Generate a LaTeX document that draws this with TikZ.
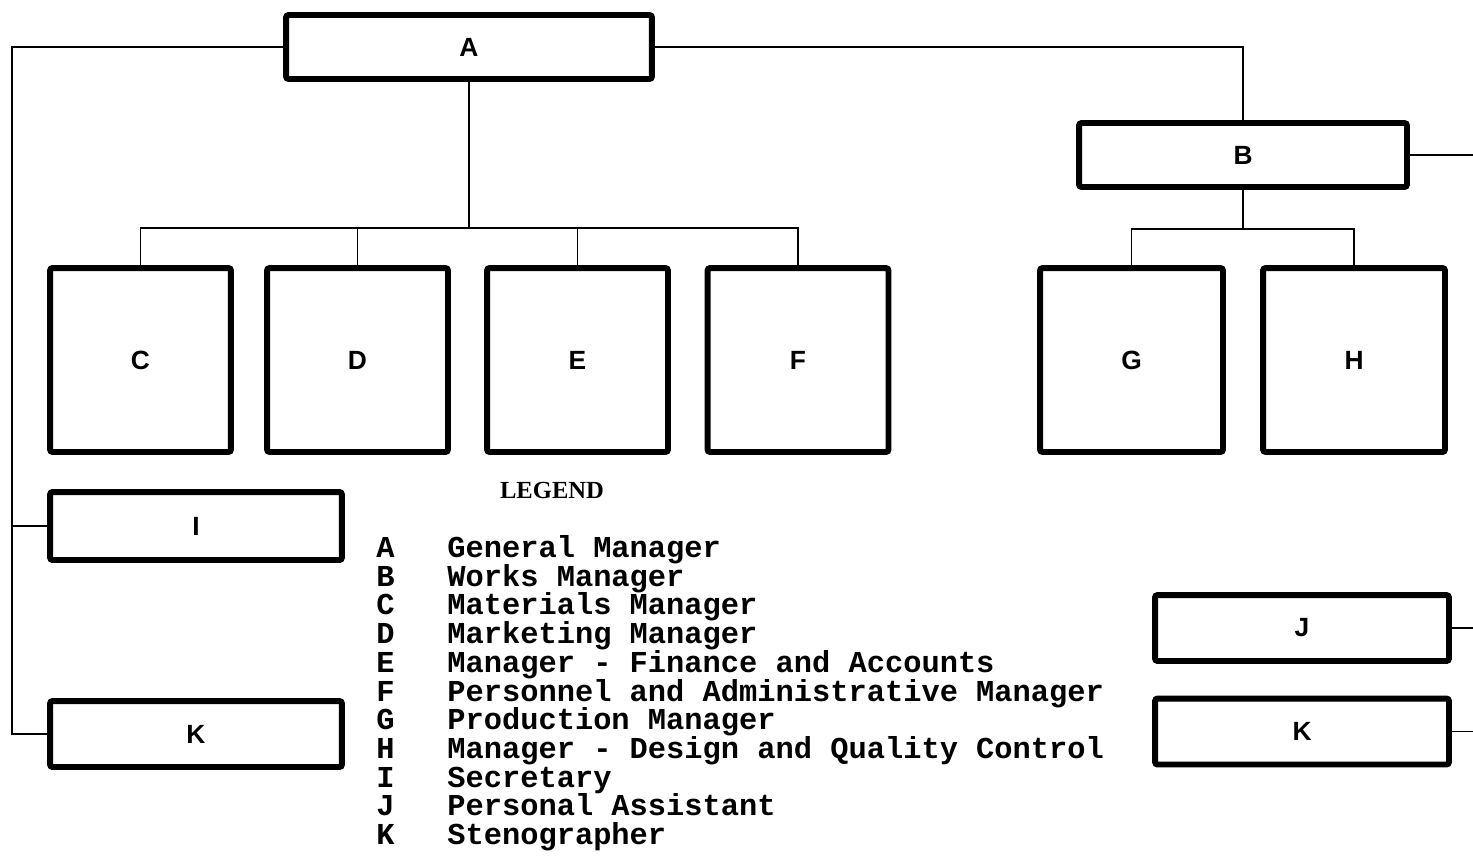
\documentclass[tikz,border=0pt]{standalone}
\usepackage{fontspec}
\setmainfont{Liberation Sans}
\newfontfamily\legfont{Liberation Mono}
\newfontfamily\headfont{Liberation Serif}
\begin{document}
\begin{tikzpicture}[x=0.02cm,y=-0.02cm,
  box/.style={draw, line width=3.4pt, rounded corners=1.5pt, inner sep=0pt,
              font=\bfseries\fontsize{15}{17}\selectfont},
  wire/.style={line width=1.1pt},
  leg/.style={anchor=base west, inner sep=0pt,
              font=\legfont\bfseries\fontsize{17.3}{19}\selectfont}]
\useasboundingbox (0,0) rectangle (1473,856);

% boxes
\node[box, minimum width=7.32cm, minimum height=1.28cm] (A) at (469,47) {A};
\node[box, minimum width=6.56cm, minimum height=1.28cm] (B) at (1243,155) {B};
\node[box, minimum width=3.62cm, minimum height=3.68cm] (C) at (140.5,360) {C};
\node[box, minimum width=3.62cm, minimum height=3.68cm] (D) at (357.5,360) {D};
\node[box, minimum width=3.62cm, minimum height=3.68cm] (E) at (577.5,360) {E};
\node[box, minimum width=3.62cm, minimum height=3.68cm] (F) at (798,360) {F};
\node[box, minimum width=3.66cm, minimum height=3.68cm] (G) at (1131.5,360) {G};
\node[box, minimum width=3.64cm, minimum height=3.68cm] (H) at (1354,360) {H};
\node[box, minimum width=5.84cm, minimum height=1.36cm] (I) at (196,526) {I};
\node[box, minimum width=5.84cm, minimum height=1.32cm] (K1) at (196,734) {K};
\node[box, minimum width=5.88cm, minimum height=1.32cm] (J) at (1302,628) {J};
\node[box, minimum width=5.88cm, minimum height=1.32cm] (K2) at (1302,731.5) {K};

% connectors from A
\coordinate (busA) at (469,228);
\draw[wire] (A.south) -- (busA);
\draw[wire] (C.north) -- (C.north |- busA) -- (F.north |- busA) -- (F.north);
\draw[wire] (D.north) -- (D.north |- busA);
\draw[wire] (E.north) -- (E.north |- busA);
\draw[wire] (A.east) -| (B.north);
\coordinate (lt) at (12,47);
\draw[wire] (A.west) -- (lt) |- (K1.west);
\draw[wire] (lt |- I.west) -- (I.west);

% connectors from B
\coordinate (busB) at (1243,229);
\draw[wire] (B.south) -- (busB);
\draw[wire] (G.north) -- (G.north |- busB) -- (H.north |- busB) -- (H.north);
\coordinate (rB) at (1473,155);
\coordinate (rJ) at (1473,628);
\coordinate (rK) at (1473,731.5);
\draw[wire] (B.east) -- (rB);
\draw[wire] (J.east) -- (rJ);
\draw[wire] (K2.east) -- (rK);

% legend
\node[inner sep=0pt] (legend) at (552,490) {\headfont\bfseries\fontsize{14}{16}\selectfont LEGEND};
\foreach \k/\t [count=\i from 0] in {A/General Manager, B/Works Manager,
    C/Materials Manager, D/Marketing Manager, E/Manager - Finance and Accounts,
    F/Personnel and Administrative Manager, G/Production Manager,
    H/Manager - Design and Quality Control, I/Secretary,
    J/Personal Assistant, K/Stenographer}{
  \node[leg] (k\k) at (376,{557.5+28.7*\i}) {\k};
  \node[leg] (t\k) at (447,{557.5+28.7*\i}) {\t};
}
\end{tikzpicture}
\end{document}
